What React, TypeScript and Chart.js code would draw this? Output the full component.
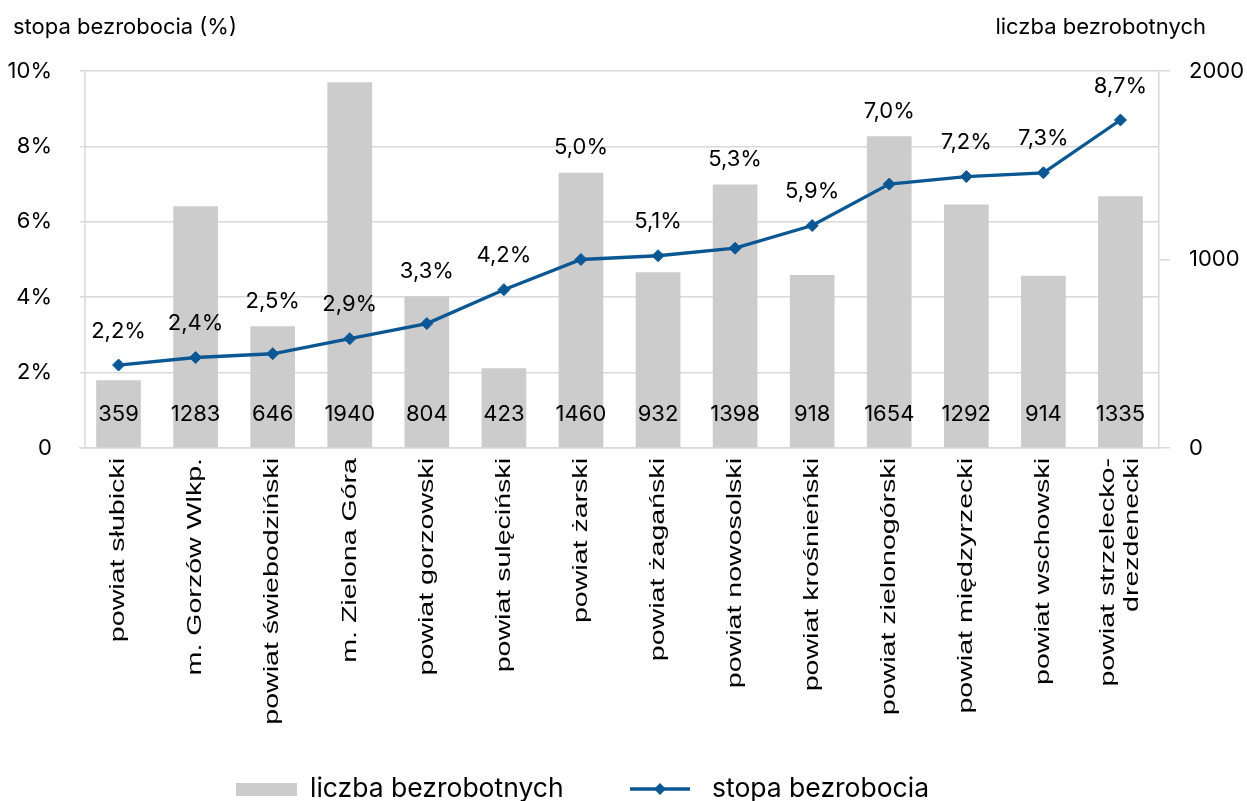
import React, { useEffect, useRef } from 'react';
import { Chart, registerables } from 'chart.js';

Chart.register(...registerables);

const categories: (string | string[])[] = [
  'powiat słubicki',
  'm. Gorzów Wlkp.',
  'powiat świebodziński',
  'm. Zielona Góra',
  'powiat gorzowski',
  'powiat sulęciński',
  'powiat żarski',
  'powiat żagański',
  'powiat nowosolski',
  'powiat krośnieński',
  'powiat zielonogórski',
  'powiat międzyrzecki',
  'powiat wschowski',
  ['powiat strzelecko-', 'drezdenecki'],
];

const unemployedCount = [359, 1283, 646, 1940, 804, 423, 1460, 932, 1398, 918, 1654, 1292, 914, 1335];
const unemploymentRate = [2.2, 2.4, 2.5, 2.9, 3.3, 4.2, 5.0, 5.1, 5.3, 5.9, 7.0, 7.2, 7.3, 8.7];

const rateTicks = [0, 2, 4, 6, 8, 10];
const rateTickLabels = ['0', '2%', '4%', '6%', '8%', '10%'];
const countTicks = [0, 1000, 2000];
const countTickLabels = ['0', '1000', '2000'];

const countLabel = 'liczba bezrobotnych';
const rateLabel = 'stopa bezrobocia';
const leftTitle = 'stopa bezrobocia (%)';
const rightTitle = 'liczba bezrobotnych';

const GRID = '#d9d9d9';
const BAR = '#cccccc';
const LINE = '#0b5794';
const TEXT = '#000000';
const FONT = 'Inter';

const overlay = {
  id: 'overlay',
  afterDraw(chart: any) {
    const ctx: CanvasRenderingContext2D = chart.ctx;
    const { left, top, bottom } = chart.chartArea;
    const xs = chart.scales.x;
    const ys = chart.scales.y;
    const y1 = chart.scales.y1;
    ctx.save();

    // left vertical axis line
    ctx.strokeStyle = GRID;
    ctx.lineWidth = 1.5;
    ctx.beginPath();
    ctx.moveTo(left + 5, top);
    ctx.lineTo(left + 5, bottom);
    ctx.stroke();

    ctx.fillStyle = TEXT;
    ctx.font = `22px ${FONT}`;
    ctx.textAlign = 'center';
    ctx.textBaseline = 'middle';

    // bar value labels
    unemployedCount.forEach((v, i) => {
      ctx.fillText(String(v), xs.getPixelForValue(i), bottom - 34);
    });

    // line value labels
    unemploymentRate.forEach((v, i) => {
      const px = xs.getPixelForValue(i);
      const py = ys.getPixelForValue(v);
      const by = y1.getPixelForValue(unemployedCount[i]);
      const aboveBar = by < py && py - by < 120;
      const ly = aboveBar ? by - 25 : py - 34;
      ctx.fillText(v.toFixed(1).replace('.', ',') + '%', px, ly);
    });

    // axis titles
    ctx.textAlign = 'left';
    ctx.fillText(leftTitle, 13, 27);
    ctx.textAlign = 'right';
    ctx.fillText(rightTitle, 1206, 27);

    // x category labels, rotated
    ctx.font = '21px "Liberation Sans"';
    categories.forEach((c, i) => {
      const lines = Array.isArray(c) ? c : [c];
      const cx = xs.getPixelForValue(i);
      ctx.save();
      ctx.translate(cx, bottom + 10);
      ctx.rotate(-Math.PI / 2);
      ctx.scale(1.36, 1);
      ctx.textAlign = 'right';
      ctx.textBaseline = 'middle';
      const lh = 24;
      lines.forEach((ln, j) => ctx.fillText(ln, 0, (j - (lines.length - 1) / 2) * lh));
      ctx.restore();
    });

    // legend
    const ly = 789;
    ctx.font = `26.5px ${FONT}`;
    ctx.textAlign = 'left';
    ctx.textBaseline = 'middle';
    ctx.fillStyle = BAR;
    ctx.fillRect(236, ly - 6, 61, 13);
    ctx.fillStyle = TEXT;
    ctx.fillText(countLabel, 310, ly);

    ctx.strokeStyle = LINE;
    ctx.lineWidth = 3.3;
    ctx.beginPath();
    ctx.moveTo(630, ly);
    ctx.lineTo(690, ly);
    ctx.stroke();
    ctx.fillStyle = LINE;
    ctx.beginPath();
    ctx.moveTo(660, ly - 6);
    ctx.lineTo(666, ly);
    ctx.lineTo(660, ly + 6);
    ctx.lineTo(654, ly);
    ctx.closePath();
    ctx.fill();
    ctx.fillStyle = TEXT;
    ctx.fillText(rateLabel, 712, ly);

    ctx.restore();
  },
};

export default function App() {
  const ref = useRef<HTMLCanvasElement | null>(null);

  useEffect(() => {
    const canvas = ref.current;
    if (!canvas) return;
    const chart = new Chart(canvas, {
      type: 'bar',
      data: {
        labels: categories as any,
        datasets: [
          {
            type: 'line',
            label: rateLabel,
            data: unemploymentRate,
            yAxisID: 'y',
            borderColor: LINE,
            backgroundColor: LINE,
            borderWidth: 3.3,
            pointStyle: 'rectRot',
            pointRadius: 6,
            pointBorderWidth: 1,
            pointBackgroundColor: LINE,
            pointBorderColor: LINE,
            tension: 0,
            order: 0,
          } as any,
          {
            type: 'bar',
            label: countLabel,
            data: unemployedCount,
            yAxisID: 'y1',
            backgroundColor: BAR,
            borderWidth: 0,
            categoryPercentage: 1,
            barPercentage: 0.58,
            order: 1,
          } as any,
        ],
      },
      options: {
        responsive: false,
        animation: false,
        layout: { padding: { top: 71, left: 0, right: 0, bottom: 0 } },
        plugins: {
          legend: { display: false },
          tooltip: { enabled: false },
          title: { display: false },
        },
        scales: {
          x: {
            type: 'category',
            grid: { display: false },
            border: { display: true, color: GRID, width: 1.5 },
            ticks: { display: false },
            afterFit(s: any) {
              s.height = 353;
            },
          },
          y: {
            position: 'left',
            min: 0,
            max: 10,
            afterBuildTicks(s: any) {
              s.ticks = rateTicks.map((v) => ({ value: v }));
            },
            ticks: {
              padding: 28,
              color: TEXT,
              font: { family: FONT, size: 22 },
              callback: (_v: any, i: number) => rateTickLabels[i],
            },
            grid: { color: GRID, lineWidth: 1.5, drawTicks: false },
            border: { display: false },
            afterFit(s: any) {
              s.width = 80;
            },
          },
          y1: {
            position: 'right',
            min: 0,
            max: 2000,
            afterBuildTicks(s: any) {
              s.ticks = countTicks.map((v) => ({ value: v }));
            },
            ticks: {
              padding: 19,
              color: TEXT,
              font: { family: FONT, size: 22 },
              callback: (_v: any, i: number) => countTickLabels[i],
            },
            grid: { drawOnChartArea: false, drawTicks: true, tickLength: 11, color: GRID, lineWidth: 1.5 },
            border: { display: true, color: GRID, width: 1.5 },
            afterFit(s: any) {
              s.width = 88;
            },
          },
        },
      } as any,
      plugins: [overlay],
    });
    return () => chart.destroy();
  }, []);

  return (
    <div style={{ position: 'fixed', left: 0, top: 0, width: 1247, height: 801, background: '#fff' }}>
      <canvas ref={ref} width={1247} height={801} style={{ width: 1247, height: 801, display: 'block' }} />
    </div>
  );
}
